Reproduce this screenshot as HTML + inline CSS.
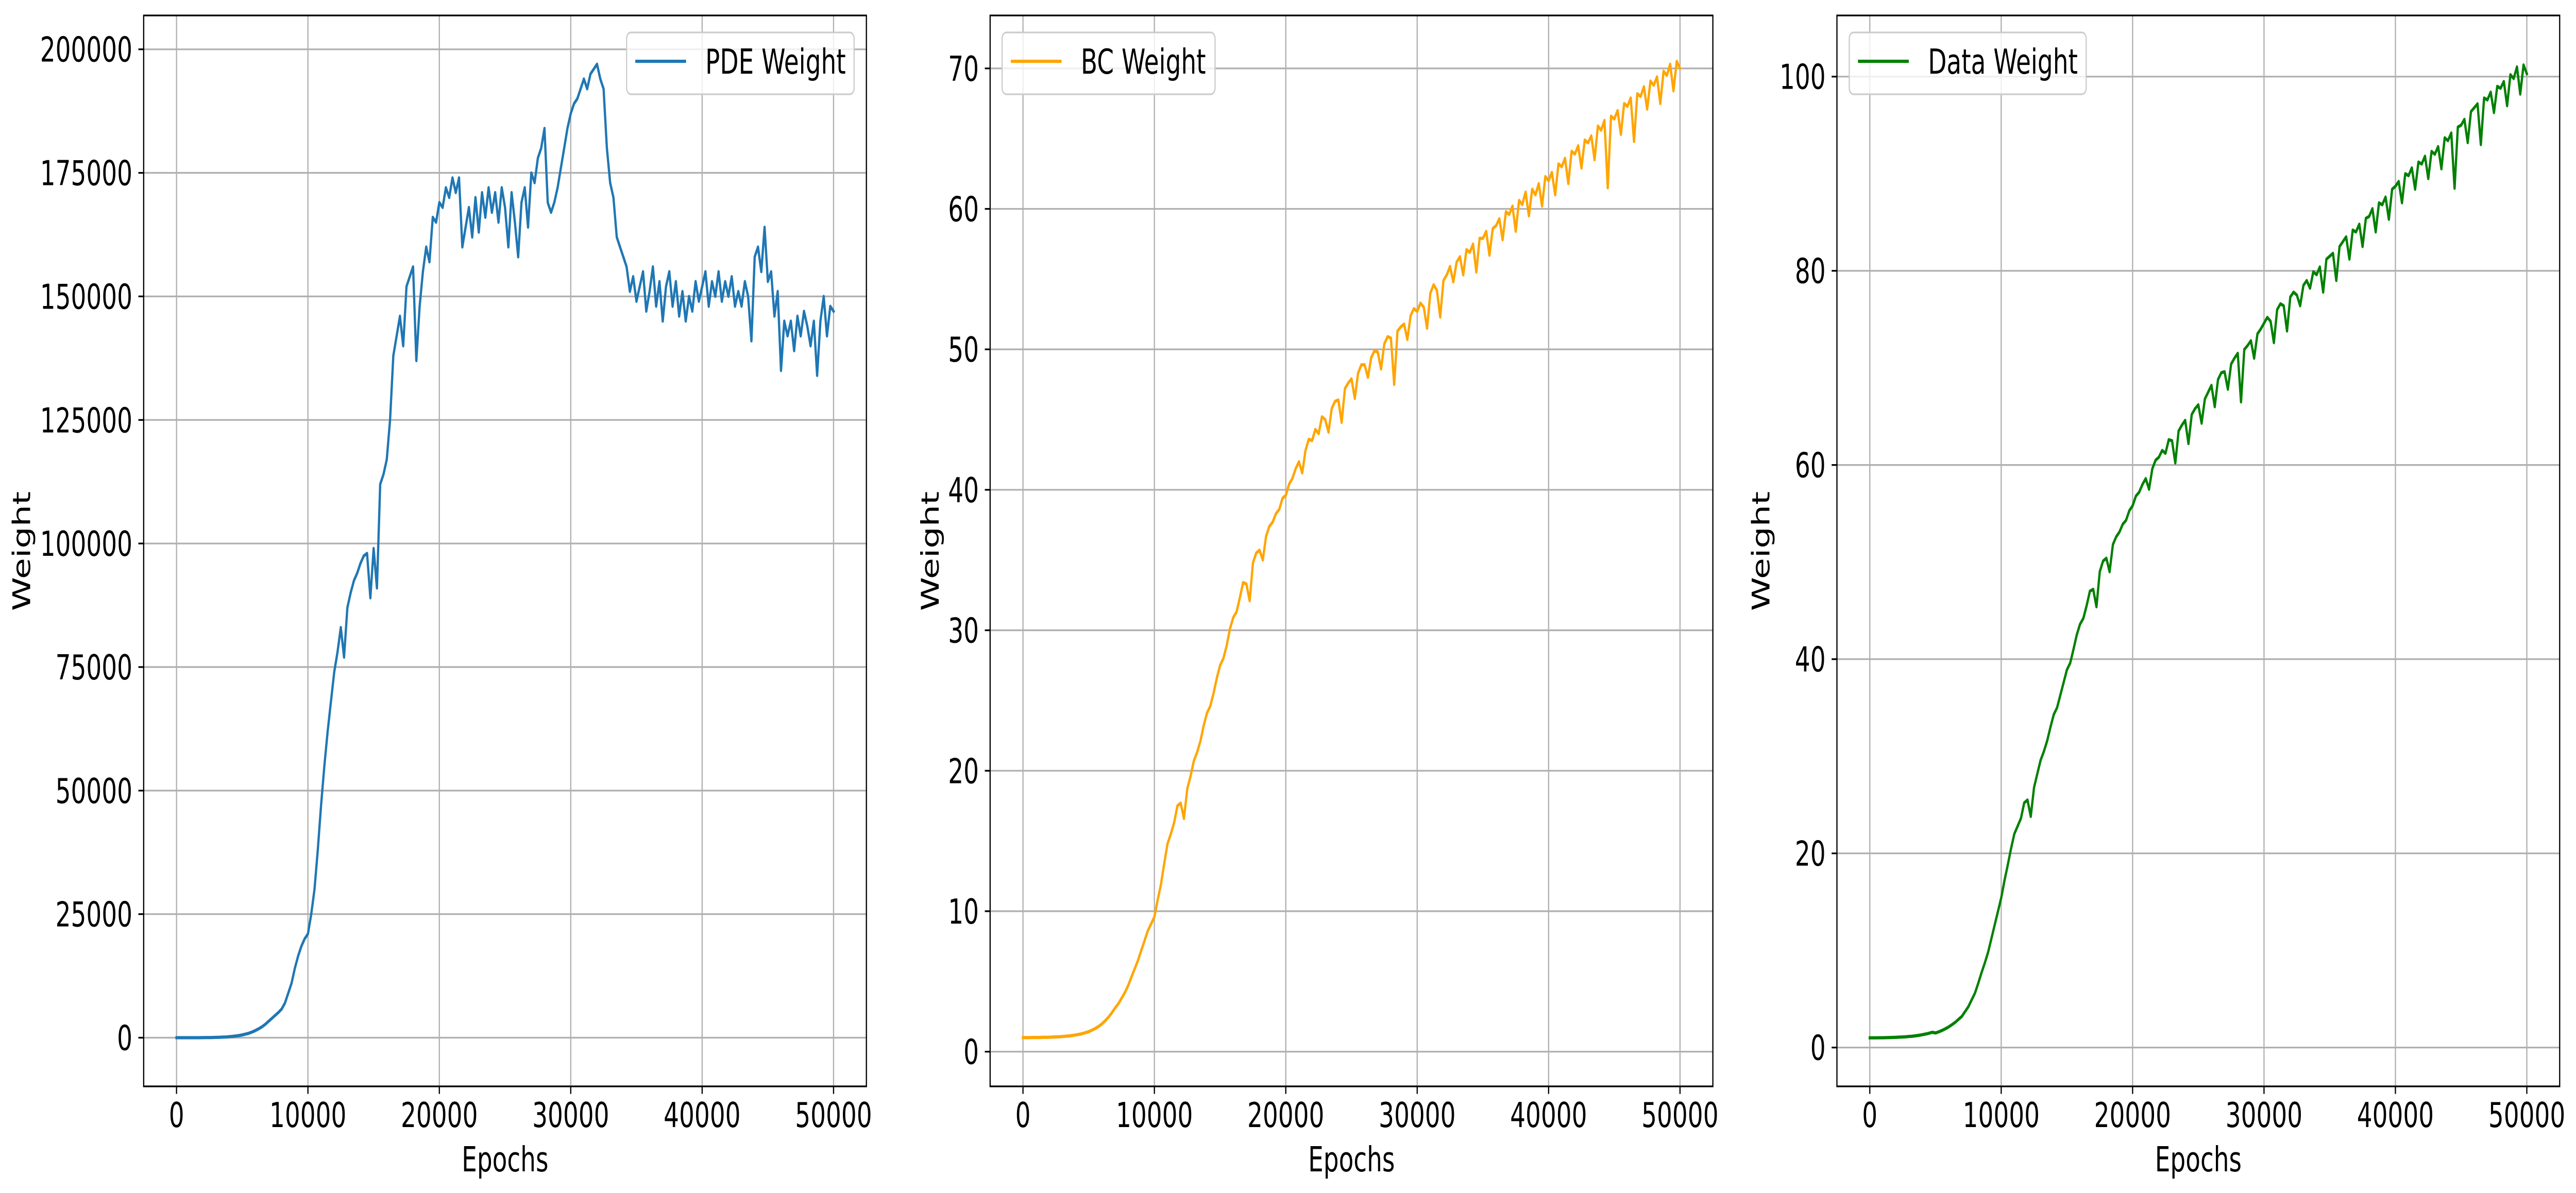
<!DOCTYPE html>
<html><head><meta charset="utf-8">
<style>
html,body{margin:0;padding:0;background:#fff;width:100%;height:100%;overflow:hidden;}
svg{display:block;width:100vw;height:100vh;}
text{font-family:"DejaVu Sans","Liberation Sans",sans-serif;fill:#000;}
</style></head>
<body>
<svg id="fig" xmlns="http://www.w3.org/2000/svg" viewBox="0 0 7100 2316" preserveAspectRatio="none">
<rect x="0" y="0" width="7100" height="2316" fill="#fff"/>
</svg>
<script>
// ---- data (sampled every 250 epochs, 0..50000) ----
const epochStep = 250;
const xTickValues = [0, 10000, 20000, 30000, 40000, 50000];
const xTickLabels = ["0", "10000", "20000", "30000", "40000", "50000"];

const pdeTickValues = [0, 25000, 50000, 75000, 100000, 125000, 150000, 175000, 200000];
const pdeTickLabels = ["0", "25000", "50000", "75000", "100000", "125000", "150000", "175000", "200000"];
const bcTickValues = [0, 10, 20, 30, 40, 50, 60, 70];
const bcTickLabels = ["0", "10", "20", "30", "40", "50", "60", "70"];
const dataTickValues = [0, 20, 40, 60, 80, 100];
const dataTickLabels = ["0", "20", "40", "60", "80", "100"];

const pdeWeight = [
0,0,0,0,0,0,0,0,10,20,
30,40,60,80,110,150,200,260,340,440,
560,720,900,1150,1450,1800,2200,2700,3300,3900,
4500,5100,5800,7000,9000,11000,14000,16500,18500,20000,
21000,25000,30000,38000,47000,55000,62000,68000,74000,78000,
83000,77000,87000,90000,92500,94000,96000,97500,98000,89000,
99000,91000,112000,114000,117000,125000,138000,142000,146000,140000,
152000,154000,156000,137000,148000,155000,160000,157000,166000,165000,
169000,168000,172000,170000,174000,171000,174000,160000,164000,168000,
162000,170000,163000,171000,166000,172000,167000,171000,165000,172000,
168000,160000,171000,165000,158000,169000,172000,164000,175000,173000,
178000,180000,184000,169000,167000,169000,172000,176000,180000,184000,
187000,189000,190000,192000,194000,192000,195000,196000,197000,194000,
192000,180000,173000,170000,162000,160000,158000,156000,151000,154000,
149000,152000,155000,147000,151000,156000,148000,153000,145000,152000,
155000,148000,153000,146000,151000,145000,150000,147000,153000,149000,
152000,155000,148000,153000,150000,155000,149000,153000,150000,154000,
148000,151000,148000,153000,150000,141000,158000,160000,155000,164000,
153000,155000,146000,151000,135000,145000,142000,145000,139000,146000,
142000,147000,144000,140000,145000,134000,145000,150000,142000,148000,
147000];

const bcWeight = [
1.00,1.00,1.00,1.01,1.01,1.01,1.02,1.02,1.03,1.04,
1.05,1.06,1.08,1.10,1.12,1.15,1.19,1.23,1.28,1.35,
1.43,1.53,1.65,1.80,1.98,2.20,2.45,2.75,3.10,3.40,
3.80,4.20,4.70,5.30,5.90,6.50,7.20,7.90,8.60,9.10,
9.6,10.8,11.9,13.4,14.8,15.5,16.3,17.5,17.7,16.6,
18.7,19.6,20.7,21.3,22.1,23.2,24.1,24.6,25.5,26.6,
27.5,28.0,28.9,30.1,30.9,31.3,32.3,33.4,33.3,32.1,
34.8,35.5,35.7,35.0,36.7,37.4,37.7,38.3,38.6,39.4,
39.6,40.4,40.8,41.5,42.0,41.2,42.8,43.6,43.5,44.3,
44.0,45.2,45.0,44.1,45.8,46.3,46.4,44.8,47.2,47.6,
47.9,46.5,48.3,48.9,48.9,48.0,49.4,49.9,49.8,48.6,
50.4,50.9,50.8,47.5,51.3,51.6,51.8,50.7,52.4,52.9,
52.7,53.3,53.0,51.5,54.0,54.6,54.2,52.3,54.9,55.3,
55.9,54.8,56.2,56.6,55.3,57.1,56.9,57.5,55.5,57.9,
57.9,58.4,56.7,58.6,58.8,59.3,57.8,59.8,59.6,60.2,
58.4,60.6,60.3,61.2,59.5,61.4,61.0,61.8,60.2,62.3,
62.0,62.6,61.0,63.2,63.0,63.6,61.8,64.1,63.9,64.5,
62.9,64.9,64.7,65.2,63.5,65.9,65.6,66.3,61.5,66.6,
66.4,67.0,65.3,67.5,67.3,67.9,64.8,68.2,68.0,68.7,
67.1,69.1,68.8,69.4,67.5,69.8,69.5,70.3,68.4,70.5,
70.0];

const dataWeight = [
1.00,1.00,1.00,1.01,1.01,1.02,1.03,1.04,1.05,1.07,
1.09,1.11,1.14,1.17,1.21,1.26,1.32,1.39,1.47,1.57,
1.50,1.62,1.76,1.93,2.12,2.35,2.60,2.90,3.20,3.70,
4.2,4.9,5.6,6.6,7.7,8.7,9.8,11.2,12.6,14.0,
15.4,17.2,18.8,20.5,22.0,22.8,23.6,25.2,25.5,23.8,
26.8,28.2,29.6,30.5,31.6,33.0,34.3,35.0,36.3,37.6,
38.9,39.6,41.0,42.5,43.6,44.2,45.5,47.0,47.2,45.4,
49.0,50.1,50.4,49.0,51.8,52.6,53.1,53.9,54.3,55.3,
55.8,56.8,57.2,58.0,58.6,57.5,59.6,60.5,60.8,61.5,
61.2,62.6,62.5,60.2,63.5,64.1,64.6,62.2,65.2,65.8,
66.2,64.3,66.8,67.5,68.2,66.0,68.8,69.5,69.6,67.8,
70.4,71.0,71.5,66.5,71.9,72.3,72.8,71.0,73.5,74.0,
74.6,75.2,74.8,72.6,76.0,76.6,76.4,73.8,77.3,77.8,
77.5,76.4,78.5,79.0,78.2,79.9,79.6,80.4,77.8,81.2,
81.5,81.8,79.0,82.5,83.0,83.5,81.2,84.2,84.0,84.8,
82.5,85.4,85.6,86.4,84.0,87.0,86.8,87.6,85.3,88.4,
88.7,89.2,87.0,90.0,89.8,90.6,88.4,91.2,91.0,91.8,
89.5,92.3,92.0,92.8,90.5,93.7,93.4,94.2,88.5,94.8,
95.0,95.6,93.2,96.4,96.8,97.2,93.0,97.8,97.6,98.4,
96.3,99.0,98.8,99.5,97.0,100.2,99.8,101.0,98.2,101.2,
100.3];

// ---- drawing ----
const NS = "http://www.w3.org/2000/svg";
const svg = document.getElementById("fig");
const PANEL_W = 1992, TOP = 30, BOTTOM = 2109;
const XMIN = -2500, XMAX = 52500;

function mk(tag, attrs, parent) {
  const el = document.createElementNS(NS, tag);
  for (const k in attrs) el.setAttribute(k, attrs[k]);
  (parent || svg).appendChild(el);
  return el;
}

function drawPanel(left, values, ymin, ymax, yTicks, yTickLabels, color, ylabelX, key) {
  const g = mk("g", {});
  
  
  const xs = v => left + (v - XMIN) / (XMAX - XMIN) * PANEL_W;
  const ys = v => BOTTOM - (v - ymin) / (ymax - ymin) * (BOTTOM - TOP);

  xTickValues.forEach((t) => {
    const l = mk("line", {x1: xs(t), x2: xs(t), y1: TOP, y2: BOTTOM, stroke: "#b0b0b0", "stroke-width": 3.3}, g);
    
    
  });
  yTicks.forEach((t) => {
    const l = mk("line", {x1: left, x2: left + PANEL_W, y1: ys(t), y2: ys(t), stroke: "#b0b0b0", "stroke-width": 3.3}, g);
    
    
  });

  let d = "";
  values.forEach((v, i) => { d += (i ? "L" : "M") + xs(i * epochStep).toFixed(1) + "," + ys(v).toFixed(1); });
  const path = mk("path", {d: d, fill: "none", stroke: color, "stroke-width": 6.25, "stroke-linejoin": "round", "stroke-linecap": "square"}, g);
  
  

  const frame = mk("rect", {x: left, y: TOP, width: PANEL_W, height: BOTTOM - TOP, fill: "none", stroke: "#000", "stroke-width": 3.3}, g);
  
  

  xTickValues.forEach((t, i) => {
    const tk = mk("line", {x1: xs(t), x2: xs(t), y1: BOTTOM, y2: BOTTOM + 14.6, stroke: "#000", "stroke-width": 3.3}, g);
    
    
    const tx = mk("text", {x: xs(t), y: 2188, "font-size": 66.7, "text-anchor": "middle"}, g);
    tx.textContent = xTickLabels[i];
    
    
  });
  yTicks.forEach((t, i) => {
    const tk = mk("line", {x1: left - 14.6, x2: left, y1: ys(t), y2: ys(t), stroke: "#000", "stroke-width": 3.3}, g);
    
    
    const tx = mk("text", {x: left - 31, y: ys(t) + 24, "font-size": 66.7, "text-anchor": "end"}, g);
    tx.textContent = yTickLabels[i];
    
    
  });

  const xl = mk("text", {x: left + PANEL_W / 2, y: 2274, "font-size": 66.7, "text-anchor": "middle"}, g);
  xl.textContent = "Epochs";
  
  
  const yl = mk("text", {x: 0, y: 0, "font-size": 66.7, "text-anchor": "middle", transform: "translate(" + ylabelX + ",1070) rotate(-90)"}, g);
  yl.textContent = "Weight";
  
  

  return {g, xs, ys};
}

function drawLegend(g, boxLeft, boxRight, color, label, key) {
  const lg = mk("g", {}, g);
  
  
  const box = mk("rect", {x: boxLeft, y: 63, width: boxRight - boxLeft, height: 120, rx: 12, fill: "rgba(255,255,255,0.8)", stroke: "#cccccc", "stroke-width": 3.3}, lg);
  
  
  const h = mk("line", {x1: boxLeft + 24, x2: boxLeft + 164, y1: 119, y2: 119, stroke: color, "stroke-width": 6.25}, lg);
  
  
  const t = mk("text", {x: boxLeft + 217, y: 143, "font-size": 66.7}, lg);
  t.textContent = label;
  
  
}

const p1 = drawPanel(396, pdeWeight, -9850, 206850, pdeTickValues, pdeTickLabels, "#1f77b4", 83, "pde");
drawLegend(p1.g, 1727, 2354, "#1f77b4", "PDE Weight", "pde");
const p2 = drawPanel(2729, bcWeight, -2.47, 73.77, bcTickValues, bcTickLabels, "#ffa500", 2587, "bc");
drawLegend(p2.g, 2762, 3349, "#ffa500", "BC Weight", "bc");
const p3 = drawPanel(5063, dataWeight, -4.0, 106.3, dataTickValues, dataTickLabels, "#008000", 4877, "data");
drawLegend(p3.g, 5097, 5750, "#008000", "Data Weight", "data");
</script>
</body></html>
